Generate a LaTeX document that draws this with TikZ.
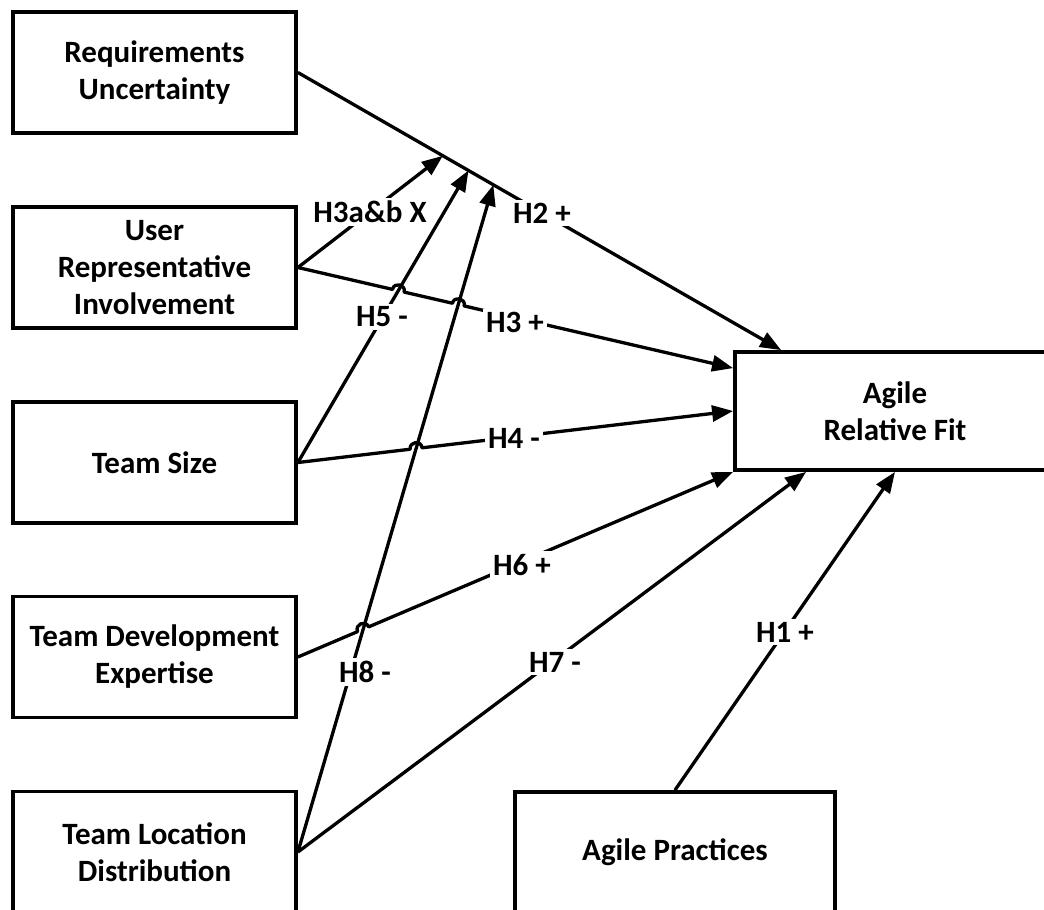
\documentclass[tikz,border=0pt]{standalone}
\usepackage{fontspec}
\setmainfont{Carlito}
\usetikzlibrary{arrows.meta,calc}
\begin{document}
\begin{tikzpicture}[x=1pt,y=-1pt,
  box/.style={draw, line width=3.8pt, rectangle, align=center, fill=white,
    font=\fontsize{31}{37}\selectfont\bfseries, inner sep=0pt},
  lbox/.style={box, minimum width=283pt, minimum height=121pt},
  arr/.style={line width=3.3pt, line join=round, -{Triangle[length=21pt,width=16pt]}},
  lbl/.style={fill=white, inner sep=3pt, font=\fontsize{31}{35}\selectfont\bfseries},
  hop/.style={bend left=90, looseness=1.7}]
\fill[white] (0,0) rectangle (1044,910);
\useasboundingbox (0,0) rectangle (1044,910);
\clip (0,0) rectangle (1044,910);
% boxes
\node[lbox] (RU)  at (154.5,72.5)  {Requirements\\Uncertainty};
\node[lbox] (URI) at (154.5,267.5) {User\\Representative\\Involvement};
\node[lbox] (TS)  at (154.5,462.5) {Team Size};
\node[lbox] (TDE) at (154.5,657)   {Team Development\\Expertise};
\node[lbox] (TLD) at (154.5,852)   {Team Location\\Distribution};
\node[box, minimum width=320pt, minimum height=120pt] (AP)  at (675,852) {Agile Practices};
\node[box, minimum width=320pt, minimum height=118pt] (ARF) at (895,411) {Agile\\Relative Fit};
% anchor coordinates
\coordinate (rE) at (RU.east);
\coordinate (uE) at (URI.east);
\coordinate (tE) at (TS.east);
\coordinate (dE) at (TDE.east);
\coordinate (lE) at (TLD.east);
\coordinate (h2e) at ($(ARF.north west)+(48,0)$);
\coordinate (h3e) at ($(ARF.north west)+(0,18)$);
\coordinate (h4e) at (ARF.west);
\coordinate (h6e) at (ARF.south west);
\coordinate (h7e) at ($(ARF.south west)+(73,0)$);
\coordinate (m1) at ($(rE)!0.300!(h2e)$);
\coordinate (m2) at ($(rE)!0.353!(h2e)$);
\coordinate (m3) at ($(rE)!0.4045!(h2e)$);
\coordinate (xA) at (intersection of uE--h3e and tE--m2);
\coordinate (xB) at (intersection of uE--h3e and lE--m3);
\coordinate (xC) at (intersection of tE--h4e and lE--m3);
\coordinate (xD) at (intersection of dE--h6e and lE--m3);
% connectors
\draw[arr] (rE) -- (h2e);
\draw[arr] (uE) -- (m1);
\draw[arr] (tE) -- (m2);
\draw[arr] (lE) -- (m3);
\draw[arr] (uE) -- ($(xA)!6pt!(uE)$) to[hop] ($(xA)!6pt!(h3e)$)
  -- ($(xB)!6pt!(uE)$) to[hop] ($(xB)!6pt!(h3e)$) -- (h3e);
\draw[arr] (tE) -- ($(xC)!6pt!(tE)$) to[hop] ($(xC)!6pt!(h4e)$) -- (h4e);
\draw[arr] (dE) -- ($(xD)!6pt!(dE)$) to[hop] ($(xD)!6pt!(h6e)$) -- (h6e);
\draw[arr] (lE) -- (h7e);
\draw[arr] (AP.north) -- (ARF.south);
% labels
\node[lbl] (L2)  at (542,213) {H2 +};
\node[lbl] (L3x) at (370,212) {H3a\&b X};
\node[lbl] (L5)  at (382,317) {H5 -};
\node[lbl] (L3)  at (515,322) {H3 +};
\node[lbl] (L4)  at (514,438) {H4 -};
\node[lbl] (L6)  at (522,565) {H6 +};
\node[lbl] (L8)  at (365,672) {H8 -};
\node[lbl] (L7)  at (555,662) {H7 -};
\node[lbl] (L1)  at (785,632) {H1 +};
\end{tikzpicture}
\end{document}
